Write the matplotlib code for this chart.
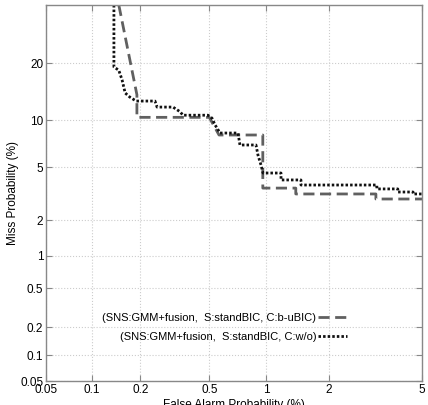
import numpy as np
import matplotlib
matplotlib.use('Agg')
import matplotlib.pyplot as plt
from statistics import NormalDist

plt.rcParams['font.family'] = ['Liberation Sans', 'DejaVu Sans']

# DET curves, values in percent
fa_buBIC = [0.148, 0.191, 0.191, 0.50, 0.565, 0.96, 0.96, 1.40, 1.40, 3.24, 3.24, 5.0]
miss_buBIC = [34.7, 13.9, 10.4, 10.4, 8.15, 8.15, 3.56, 3.56, 3.22, 3.22, 2.95, 2.95]

fa_wo = [0.138, 0.138, 0.148, 0.155, 0.162, 0.173, 0.189, 0.245, 0.252, 0.312, 0.343, 0.356,
         0.492, 0.517, 0.537, 0.551, 0.572, 0.714, 0.731, 0.886, 0.907, 0.94, 0.962, 1.185,
         1.185, 1.483, 1.483, 3.27, 3.27, 4.0, 4.0, 4.61, 4.61, 5.0]
miss_wo = [34.7, 19.2, 18.5, 16.6, 14.2, 13.5, 12.85, 12.85, 11.9, 11.9, 11.2, 10.7,
           10.7, 10.3, 9.4, 8.99, 8.38, 8.38, 7.05, 7.05, 6.06, 5.19, 4.57, 4.57,
           4.08, 4.08, 3.75, 3.75, 3.51, 3.51, 3.33, 3.33, 3.22, 3.22]

xticks = [0.05, 0.1, 0.2, 0.5, 1, 2, 5]
yticks = [0.05, 0.1, 0.2, 0.5, 1, 2, 5, 10, 20]

labels = ['(SNS:GMM+fusion,  S:standBIC, C:b-uBIC)',
          '(SNS:GMM+fusion,  S:standBIC, C:w/o)']

nd = NormalDist()
_ppf = np.vectorize(lambda p: nd.inv_cdf(min(max(p / 100.0, 1e-9), 1 - 1e-9)),
                    otypes=[float])
_cdf = np.vectorize(lambda z: nd.cdf(z) * 100.0, otypes=[float])


def fwd(v):
    return _ppf(np.asarray(v, dtype=float))


def inv(v):
    return _cdf(np.asarray(v, dtype=float))


fig = plt.figure(figsize=(4.28, 4.05), dpi=100)
ax = fig.add_axes([46 / 428, 24 / 405, 376 / 428, 376 / 405])
ax.set_xscale('function', functions=(fwd, inv))
ax.set_yscale('function', functions=(fwd, inv))

ax.plot(fa_buBIC, miss_buBIC, color='#606060', lw=2.0, linestyle=(0, (4, 2)),
        label=labels[0])
ax.plot(fa_wo, miss_wo, color='#111111', lw=2.0, linestyle=(0, (0.9, 0.75)),
        label=labels[1])

ax.set_xlim(0.05, 5)
ax.set_ylim(0.05, 34.7)
ax.set_xticks(xticks)
ax.set_xticklabels([f'{t:g}' for t in xticks])
ax.set_yticks(yticks)
ax.set_yticklabels([f'{t:g}' for t in yticks])
ax.minorticks_off()
ax.tick_params(direction='in', top=True, right=True, labelsize=8.5, length=4,
               color='#888888', pad=2)
for s in ax.spines.values():
    s.set_color('#888888')
    s.set_linewidth(1.0)
ax.grid(True, color='#cccccc', linestyle=':', linewidth=0.8)

ax.set_xlabel('False Alarm Probability (%)', fontsize=8.5, labelpad=2)
ax.set_ylabel('Miss Probability (%)', fontsize=8.5, labelpad=1)

ax.legend(loc='lower right', bbox_to_anchor=(0.80, 0.105), frameon=False,
          markerfirst=False, fontsize=8, handlelength=2.6, handletextpad=0.15,
          borderpad=0, borderaxespad=0, labelspacing=0.75)

fig.savefig('out.png', dpi=100)
